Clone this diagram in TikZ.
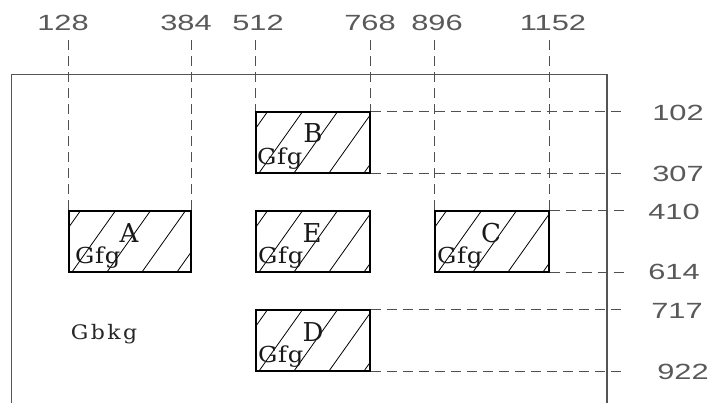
\documentclass[tikz,border=0pt]{standalone}
\usepackage{fontspec}
\newfontfamily\numfont[FakeStretch=1.4]{Liberation Sans}
\newfontfamily\lblfont{DejaVu Serif}
\newfontfamily\gfgfont[FakeStretch=1.1,LetterSpace=3]{DejaVu Serif}
\newfontfamily\bkgfont[FakeStretch=1.1,LetterSpace=12]{DejaVu Serif}
\definecolor{framegray}{HTML}{555555}
\definecolor{dashgray}{HTML}{505050}
\begin{document}
\begin{tikzpicture}[x=1pt,y=-1pt,
  region/.style={draw=black, line width=1.4pt, rectangle, inner sep=0pt,
    minimum width=#1, minimum height=61pt,
    path picture={
      \foreach \k in {-2,...,4}
        \draw[black, line width=0.8pt]
          ([xshift={3pt+35pt*\k}]path picture bounding box.south west) -- ++(44,-62);
    }},
  guide/.style={dashgray, line width=1.2pt, dash pattern=on 10pt off 6pt},
  numlbl/.style={font=\numfont\fontsize{22}{22}\selectfont, text=black!65, inner sep=0pt},
  letterlbl/.style={font=\lblfont\fontsize{26}{26}\selectfont, text=black!90, anchor=base, inner sep=0pt},
  gfglbl/.style={font=\gfgfont\fontsize{22}{22}\selectfont, text=black!90, anchor=base west, inner sep=0pt}
]
\useasboundingbox (0,0) rectangle (710,403);

% outer frame
\draw[framegray, line width=1.3pt] (11.7,403) -- (11.7,74.7) -- (607,74.7) -- (607,403);

% regions
\node[region=122pt] (A) at (130,241.5) {};
\node[region=114pt] (B) at (313,142.5) {};
\node[region=114pt] (E) at (313,241.5) {};
\node[region=114pt] (C) at (492,241.5) {};
\node[region=114pt] (D) at (313,340.5) {};

% region labels
\node[letterlbl] (lA) at (129,243) {A};
\node[letterlbl] (lB) at (313,143) {B};
\node[letterlbl] (lE) at (312,243) {E};
\node[letterlbl] (lC) at (491,243) {C};
\node[letterlbl] (lD) at (313,342) {D};
\node[gfglbl] (gA) at (75,264) {Gfg};
\node[gfglbl] (gB) at (257,165) {Gfg};
\node[gfglbl] (gE) at (258,264) {Gfg};
\node[gfglbl] (gC) at (437,264) {Gfg};
\node[gfglbl] (gD) at (258,363) {Gfg};
\node[font=\bkgfont\fontsize{20}{20}\selectfont, text=black!85, inner sep=0pt] (bkg) at (104,334) {Gbkg};

% top guide ends
\coordinate (t128) at (A.north west |- 0,40);
\coordinate (t384) at (A.north east |- 0,40);
\coordinate (t512) at (B.north west |- 0,40);
\coordinate (t768) at (B.north east |- 0,40);
\coordinate (t896) at (C.north west |- 0,40);
\coordinate (t1152) at (C.north east |- 0,40);
\draw[guide] (t128) -- (A.north west);
\draw[guide] (t384) -- (A.north east);
\draw[guide] (t512) -- (B.north west);
\draw[guide] (t768) -- (B.north east);
\draw[guide] (t896) -- (C.north west);
\draw[guide] (t1152) -- (C.north east);

% right guide ends
\coordinate (r102) at (625,0 |- B.north east);
\coordinate (r307) at (625,0 |- B.south east);
\coordinate (r410) at (625,0 |- C.north east);
\coordinate (r614) at (625,0 |- C.south east);
\coordinate (r717) at (625,0 |- D.north east);
\coordinate (r922) at (625,0 |- D.south east);
\draw[guide] (B.north east) -- (r102);
\draw[guide] (B.south east) -- (r307);
\draw[guide] (C.north east) -- (r410);
\draw[guide] (C.south east) -- (r614);
\draw[guide] (D.north east) -- (r717);
\draw[guide] (D.south east) -- (r922);

% top numbers
\node[numlbl] (n128) at (63,23) {128};
\node[numlbl] (n384) at (186,23) {384};
\node[numlbl] (n512) at (258,23) {512};
\node[numlbl] (n768) at (370,23) {768};
\node[numlbl] (n896) at (437,23) {896};
\node[numlbl] (n1152) at (553,23) {1152};

% right numbers
\node[numlbl] (n102) at (678,113) {102};
\node[numlbl] (n307) at (678,174) {307};
\node[numlbl] (n410) at (674,212) {410};
\node[numlbl] (n614) at (674,272) {614};
\node[numlbl] (n717) at (677,311) {717};
\node[numlbl] (n922) at (683,372) {922};
\end{tikzpicture}
\end{document}
